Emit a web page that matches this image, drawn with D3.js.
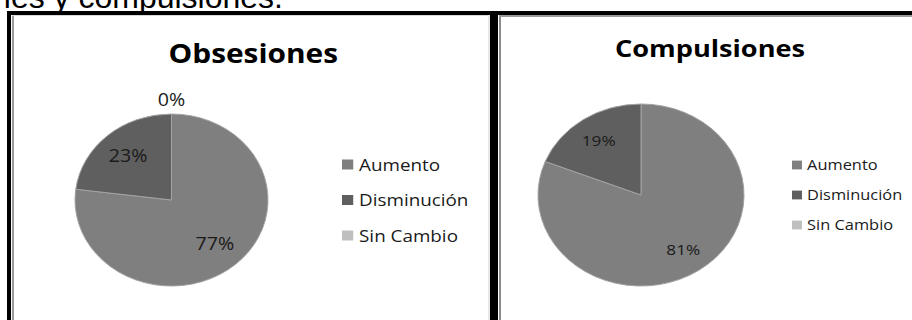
<!DOCTYPE html>
<html>
<head>
<meta charset="utf-8">
<script src="https://cdn.jsdelivr.net/npm/d3@7/dist/d3.min.js"></script>
<style>
  html, body { margin: 0; padding: 0; background: #fff; }
  svg { display: block; }
</style>
</head>
<body>
<svg id="chart" width="912" height="320"></svg>
<script>
// Categories and their shares (percent) for the two pies
const categories = ["Aumento", "Disminución", "Sin Cambio"];
const obsesionesValues = [77, 23, 0];
const compulsionesValues = [81, 19, 0];
const chartTitles = ["Obsesiones", "Compulsiones"];
const headingText = "les y compulsiones.";

const colors = d3.scaleOrdinal()
  .domain(categories)
  .range(["#7f7f7f", "#5f5f5f", "#bfbfbf"]);

const svg = d3.select("#chart");

svg.append("rect").attr("width", 912).attr("height", 320).attr("fill", "#fff");

// Heading text running above the frames (clipped by the page top)
svg.append("text")
  .attr("x", 283).attr("y", 8)
  .attr("text-anchor", "end")
  .attr("font-family", "Liberation Sans, Arial, sans-serif")
  .attr("font-size", 32)
  .attr("fill", "#000")
  .text(headingText);

// Frames: thin grey inner edges, thick black outer edges
const frame = svg.append("g");
frame.append("rect").attr("x", 12).attr("y", 15).attr("width", 2).attr("height", 305).attr("fill", "#9a9a9a");
frame.append("rect").attr("x", 12).attr("y", 15).attr("width", 476).attr("height", 1).attr("fill", "#d8d8d8");
frame.append("rect").attr("x", 488.5).attr("y", 15).attr("width", 1).attr("height", 305).attr("fill", "#cfcfcf");
frame.append("rect").attr("x", 499).attr("y", 15).attr("width", 2).attr("height", 305).attr("fill", "#8c8c8c");
frame.append("rect").attr("x", 499).attr("y", 15).attr("width", 413).attr("height", 2).attr("fill", "#9a9a9a");
frame.append("rect").attr("x", 7).attr("y", 11).attr("width", 905).attr("height", 4).attr("fill", "#000");
frame.append("rect").attr("x", 7).attr("y", 11).attr("width", 4).attr("height", 309).attr("fill", "#000");
frame.append("rect").attr("x", 490).attr("y", 11).attr("width", 8).attr("height", 309).attr("fill", "#000");

function drawPanel(cfg) {
  const pie = d3.pie().sort(null).value(d => d.value);
  const data = pie(categories.map((c, i) => ({ cat: c, value: cfg.values[i] })));
  const arc = d3.arc().innerRadius(0).outerRadius(cfg.r);
  const labelArc = d3.arc().innerRadius(cfg.r * cfg.labelK).outerRadius(cfg.r * cfg.labelK);
  const outerArc = d3.arc().innerRadius(cfg.r * 1.17).outerRadius(cfg.r * 1.17);

  // Title
  svg.append("text")
    .attr("transform", `translate(${cfg.titleX},${cfg.titleY}) scale(${cfg.sx},1)`)
    .attr("text-anchor", "middle")
    .attr("font-family", "'Open Sans', sans-serif")
    .attr("font-weight", "bold")
    .attr("font-size", cfg.titleSize)
    .attr("fill", "#000")
    .text(cfg.title);

  // Pie
  const g = svg.append("g")
    .attr("transform", `translate(${cfg.cx},${cfg.cy}) scale(${cfg.sx},1)`);

  g.selectAll("path.slice")
    .data(data.filter(d => d.data.value > 0))
    .join("path")
    .attr("class", "slice")
    .attr("d", arc)
    .attr("fill", d => colors(d.data.cat))
    .attr("stroke", "#a3a3a3")
    .attr("stroke-width", 1)
    .attr("vector-effect", "non-scaling-stroke");

  g.selectAll("text.val")
    .data(data.filter(d => d.data.value > 0 || cfg.showZero))
    .join("text")
    .attr("class", "val")
    .attr("transform", d => {
      const p = d.data.value > 0 ? labelArc.centroid(d) : outerArc.centroid(d);
      return `translate(${p[0]},${p[1]})`;
    })
    .attr("text-anchor", "middle")
    .attr("dy", "0.36em")
    .attr("font-family", "'Open Sans', sans-serif")
    .attr("font-size", cfg.labelSize)
    .attr("fill", "#1a1a1a")
    .text(d => d.data.value + "%");

  // Legend
  const lg = svg.append("g")
    .attr("transform", `translate(${cfg.legX},${cfg.legY}) scale(${cfg.sx},1)`);
  const item = lg.selectAll("g")
    .data(categories)
    .join("g")
    .attr("transform", (d, i) => `translate(0,${i * cfg.legGap})`);
  item.append("rect")
    .attr("x", 0).attr("y", -cfg.sq / 2)
    .attr("width", cfg.sq).attr("height", cfg.sq)
    .attr("fill", d => colors(d));
  item.append("text")
    .attr("x", cfg.legText)
    .attr("dy", "0.36em")
    .attr("font-family", "'Open Sans', sans-serif")
    .attr("font-size", cfg.legSize)
    .attr("fill", "#1a1a1a")
    .text(d => d);
}

drawPanel({
  title: chartTitles[0], values: obsesionesValues,
  titleX: 253.3, titleY: 63.3, titleSize: 26.6,
  cx: 171.5, cy: 200, r: 86, sx: 1.122, labelK: 0.68, labelSize: 17.5, showZero: true,
  legX: 342, legY: 164.5, legGap: 35.5, sq: 10, legText: 15.2, legSize: 16.8
});

drawPanel({
  title: chartTitles[1], values: compulsionesValues,
  titleX: 710, titleY: 56.5, titleSize: 24,
  cx: 641, cy: 195, r: 91, sx: 1.132, labelK: 0.73, labelSize: 15.2, showZero: false,
  legX: 792, legY: 165, legGap: 30, sq: 8.8, legText: 13.3, legSize: 14.5
});
</script>
</body>
</html>
